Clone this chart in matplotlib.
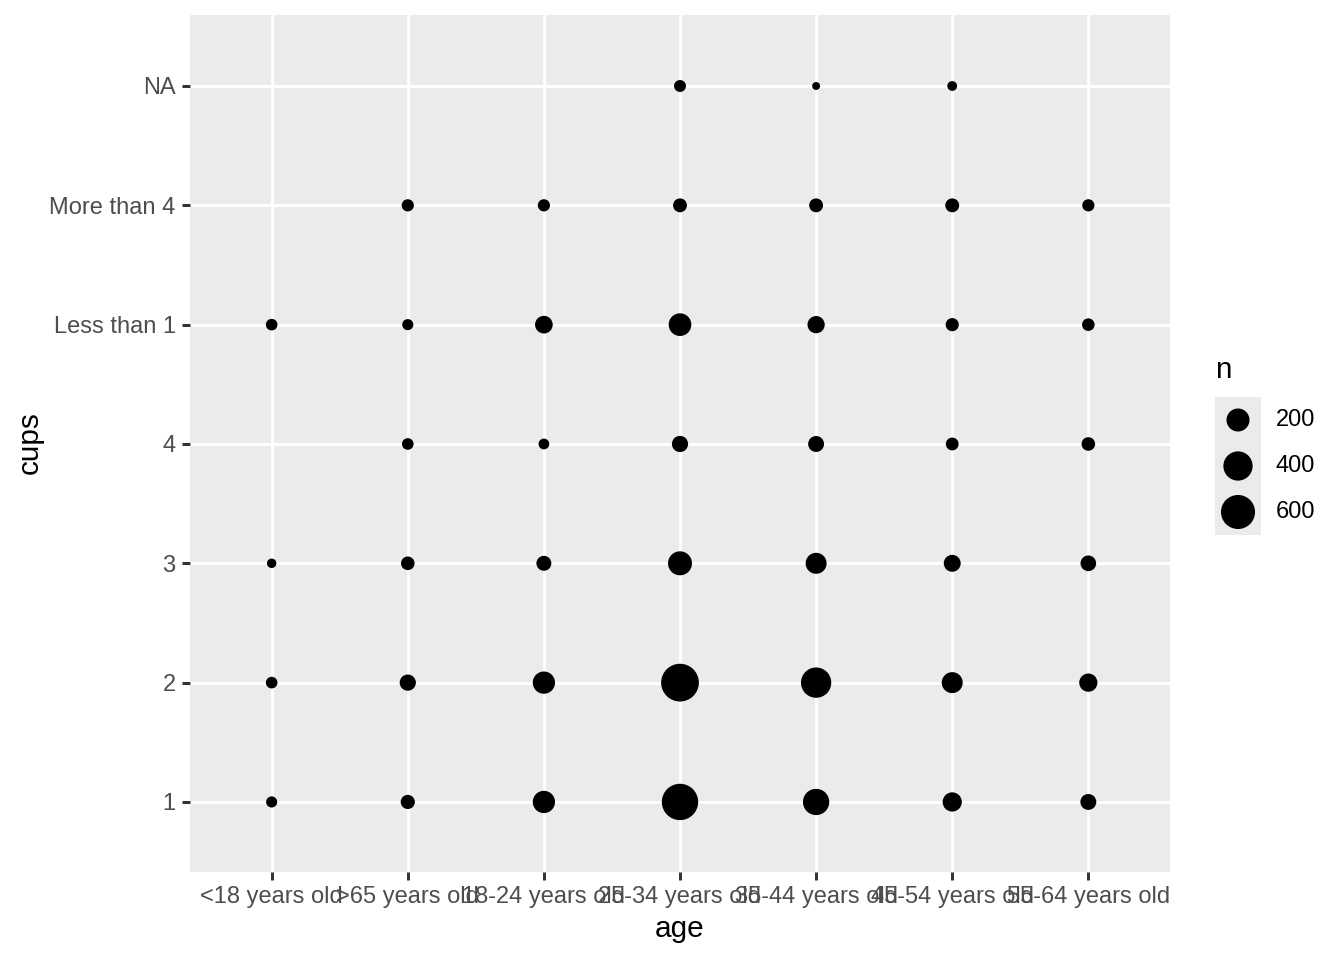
import numpy as np
import matplotlib.pyplot as plt

plt.rcParams['font.family'] = ['Liberation Sans', 'DejaVu Sans']

# Data: counts of respondents by age group and cups per day
ages = ["<18 years old", ">65 years old", "18-24 years old", "25-34 years old",
        "35-44 years old", "45-54 years old", "55-64 years old"]
cups = ["1", "2", "3", "4", "Less than 1", "More than 4", "NA"]
# one list per cups level, in the order of ages (0 = no point)
n_1 = [10, 35, 181, 709, 296, 113, 57]
n_2 = [13, 61, 181, 780, 440, 150, 94]
n_3 = [3, 29, 44, 227, 150, 72, 53]
n_4 = [0, 13, 8, 61, 57, 22, 29]
n_less1 = [13, 10, 84, 191, 77, 25, 20]
n_more4 = [0, 17, 17, 32, 32, 32, 17]
n_na = [0, 0, 0, 15, 1, 4, 0]
legend_breaks = [200, 400, 600]

counts = np.array([n_1, n_2, n_3, n_4, n_less1, n_more4, n_na])
nmin = counts[counts > 0].min()
nmax = counts.max()

DPI = 200


def msize(n):
    # area scale like ggplot's scale_size (diameter in px -> points^2)
    t = np.sqrt((np.asarray(n, float) - nmin) / (nmax - nmin))
    d_px = 7.94 + 29.8 * t
    return (d_px * 72 / DPI) ** 2


fig = plt.figure(figsize=(1344 / DPI, 960 / DPI), dpi=DPI)
ax = fig.add_axes([190 / 1344, 1 - 872 / 960, 980 / 1344, 857 / 960])
ax.set_facecolor('#EBEBEB')
for s in ax.spines.values():
    s.set_visible(False)

xs, ys, ns = [], [], []
for j in range(len(cups)):
    for i in range(len(ages)):
        if counts[j, i] > 0:
            xs.append(i)
            ys.append(j)
            ns.append(counts[j, i])
ax.scatter(xs, ys, s=msize(ns), c='black', linewidths=0, zorder=3)

ax.set_xlim(-0.6, len(ages) - 0.4)
ax.set_ylim(-0.587, len(cups) - 0.405)
ax.set_xticks(range(len(ages)))
ax.set_xticklabels(ages)
ax.set_yticks(range(len(cups)))
ax.set_yticklabels(cups)
ax.grid(True, color='white', linewidth=1.07)
ax.set_axisbelow(True)
ax.tick_params(colors='#333333', labelcolor='#4D4D4D', labelsize=8.5,
               length=2.75, width=1.07, pad=2.4)

fig.text(680 / 1344, 1 - 929 / 960, 'age', ha='center', va='center', fontsize=10.7)
fig.text(30 / 1344, 1 - 443 / 960, 'cups', ha='center', va='center',
         fontsize=10.7, rotation=90)

# legend for n
lax = fig.add_axes([1215 / 1344, 1 - 535 / 960, 46 / 1344, 138 / 960])
lax.set_facecolor('#EBEBEB')
for s in lax.spines.values():
    s.set_visible(False)
lax.set_xticks([])
lax.set_yticks([])
lax.set_xlim(0, 1)
lax.set_ylim(0, 3)
key_y = [2.5, 1.5, 0.5]
lax.scatter([0.5] * 3, key_y, s=msize(legend_breaks), c='black', linewidths=0)
for b, y in zip(legend_breaks, key_y):
    fig.text(1276 / 1344, 1 - (535 - y * 46) / 960, str(b), ha='left',
             va='center', fontsize=8.5)
fig.text(1215 / 1344, 1 - 370 / 960, 'n', ha='left', va='center', fontsize=10.7)

fig.savefig('out.png', dpi=DPI)
